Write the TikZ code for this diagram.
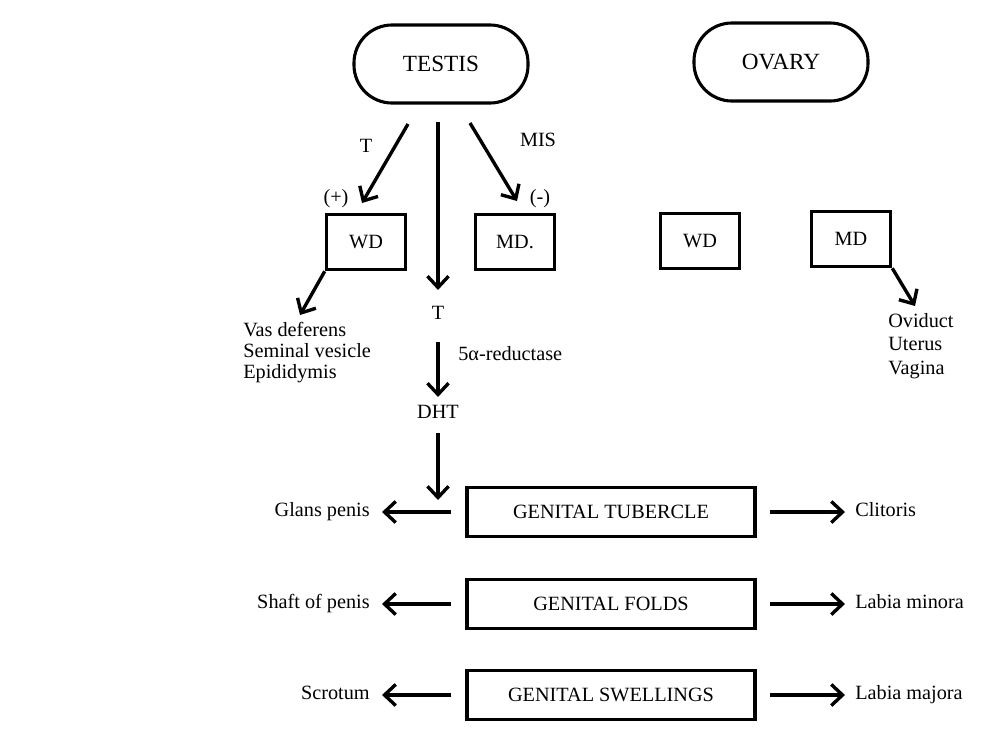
\documentclass[tikz,border=0pt]{standalone}
\usepackage{fontspec}
\setmainfont{Liberation Serif}
\usetikzlibrary{arrows.meta,positioning}

\begin{document}
\begin{tikzpicture}[
  x=0.025cm, y=-0.025cm,
  font=\fontsize{14.4}{15}\selectfont,
  gonad/.style={rectangle,draw,line width=2.2pt,rounded corners=0.95cm,minimum width=4.35cm,minimum height=1.95cm,font=\fontsize{16.5}{18}\selectfont},
  duct/.style={rectangle,draw,line width=2.4pt,minimum width=1.98cm,minimum height=1.38cm},
  anlage/.style={rectangle,draw,line width=2.4pt,minimum width=7.2cm,minimum height=1.22cm},
  txt/.style={inner sep=0pt,text height=0.68em,text depth=0pt},
  list/.style={inner sep=0pt,align=left},
  arr/.style={-{Straight Barb[length=8pt,width=15pt,line width=2.4pt]},line width=2.4pt},
  lft/.style={arr,shorten <=0.35cm,shorten >=0.3cm},
  rgt/.style={arr,shorten <=0.33cm,shorten >=0.25cm}
]
\useasboundingbox (0,0) rectangle (992,738);

% gonads and ducts
\node[gonad] (testis) at (441,64) {TESTIS};
\node[gonad] (ovary) at (781,62) {OVARY};
\node[duct] (wdM) at (366,242) {WD};
\node[duct] (mdM) at (515,242) {MD.};
\node[duct] (wdF) at (700,241) {WD};
\node[duct] (mdF) at (851,239) {MD};

\coordinate (tT) at (408,124);
\coordinate (tTend) at (362,203);
\coordinate (tM) at (470,123);
\coordinate (tMend) at (517,201);
\coordinate (tV) at (438,122);
\draw[arr] (tT) -- (tTend);
\draw[arr] (tM) -- (tMend);
\node[txt] (lblT) at (366,148) {T};
\node[txt] (lblMIS) at (538,142) {MIS};
\node[txt] (plus) at (336,199) {(+)};
\node[txt] (minus) at (540,199) {(-)};

% testosterone pathway
\node[txt] (T) at (438,315) {T};
\node[txt] (DHT) at (438,414) {DHT};
\node[txt,anchor=west] (red) at (458,356) {5α-reductase};
\draw[arr,shorten >=0.5cm] (tV) -- (T);
\draw[arr,shorten <=0.55cm,shorten >=0.3cm] (T) -- (DHT);

% duct derivatives
\node[list,anchor=north west] (wolff) at (243,322) {Vas deferens\\Seminal vesicle\\Epididymis};
\node[list,anchor=north west,font=\fontsize{14.4}{16.8}\selectfont] (muller) at (888,313) {Oviduct\\Uterus\\Vagina};
\coordinate (wdTip) at (300,315);
\coordinate (mdTip) at (915,306);
\draw[arr] (wdM.south west) -- (wdTip);
\draw[arr] (mdF.south east) -- (mdTip);

% external genitalia
\node[anlage] (gt) at (611,512) {GENITAL TUBERCLE};
\node[anlage] (gf) at (611,604) {GENITAL FOLDS};
\node[anlage] (gs) at (611,695) {GENITAL SWELLINGS};
\node[txt,anchor=east] (glans) at (370,512) {Glans penis};
\node[txt,anchor=east] (shaft) at (370,604) {Shaft of penis};
\node[txt,anchor=east] (scrotum) at (370,695) {Scrotum};
\node[txt,anchor=west] (clit) at (855,512) {Clitoris};
\node[txt,anchor=west] (lmin) at (855,604) {Labia minora};
\node[txt,anchor=west] (lmaj) at (855,695) {Labia majora};
\coordinate (dhtTip) at (438,500);
\draw[arr,shorten <=0.35cm] (DHT) -- (dhtTip);
\draw[lft] (gt.west) -- (glans.east);
\draw[lft] (gf.west) -- (shaft.east);
\draw[lft] (gs.west) -- (scrotum.east);
\draw[rgt] (gt.east) -- (clit.west);
\draw[rgt] (gf.east) -- (lmin.west);
\draw[rgt] (gs.east) -- (lmaj.west);
\end{tikzpicture}
\end{document}
